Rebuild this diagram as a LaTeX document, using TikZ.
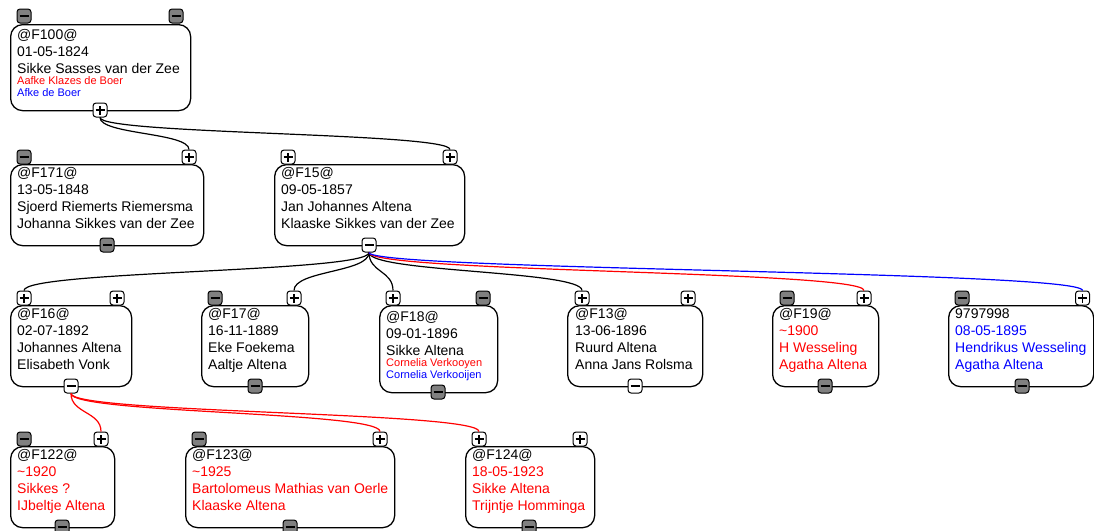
\documentclass[tikz,border=0pt]{standalone}
\usepackage{fontspec}
\setmainfont{Liberation Sans}
\definecolor{btngray}{RGB}{128,128,128}
\definecolor{nred}{RGB}{255,0,0}
\definecolor{nblue}{RGB}{0,0,255}
\newcommand\Lbig[2]{\leavevmode\fontsize{14}{17}\selectfont\textcolor{#1}{#2}\par}
\newcommand\Lsml[2]{\leavevmode\fontsize{11}{11.5}\selectfont\textcolor{#1}{#2}\par}
\tikzset{
  famb/.style={draw, line width=1.3pt, rounded corners=12pt, fill=white, anchor=north west, inner sep=0pt},
  txt/.style={anchor=base west, inner sep=0pt},
  btn/.style={draw, line width=1pt, rounded corners=3pt, minimum width=14pt, minimum height=14pt, inner sep=0pt},
  plusb/.style={btn, fill=white, path picture={
      \draw[line width=1.3pt] ([xshift=-4.5pt]path picture bounding box.center) -- ([xshift=4.5pt]path picture bounding box.center);
      \draw[line width=1.3pt] ([yshift=-4.5pt]path picture bounding box.center) -- ([yshift=4.5pt]path picture bounding box.center);}},
  minusb/.style={btn, fill=white, path picture={
      \draw[line width=1.3pt] ([xshift=-4.5pt]path picture bounding box.center) -- ([xshift=4.5pt]path picture bounding box.center);}},
  grayb/.style={btn, fill=btngray, path picture={
      \draw[line width=1.3pt] ([xshift=-4.5pt]path picture bounding box.center) -- ([xshift=4.5pt]path picture bounding box.center);}},
  conn/.style={line width=1.2pt, black},
  connr/.style={line width=1.2pt, nred},
  connb/.style={line width=1.2pt, nblue},
}
\begin{document}
\begin{tikzpicture}[x=1pt, y=-1pt]
\useasboundingbox (0,0) rectangle (1094,530);

% ---------------- level 1
\node[famb, minimum width=180pt, minimum height=86pt] (f100) at (10,24) {};
\node[txt] (f100t) at (17,39) {\parbox[t]{200pt}{\Lbig{black}{@F100@}\Lbig{black}{01-05-1824}\Lbig{black}{Sikke Sasses van der Zee}\Lsml{nred}{Aafke Klazes de Boer}\Lsml{nblue}{Afke de Boer}}};
\node[grayb] (f100l) at (24,16) {};
\node[grayb] (f100r) at (176,16) {};
\node[plusb] (f100b) at (100,110) {};

% ---------------- level 2
\node[famb, minimum width=193pt, minimum height=81pt] (f171) at (10,164) {};
\node[txt] (f171t) at (17,177) {\parbox[t]{200pt}{\Lbig{black}{@F171@}\Lbig{black}{13-05-1848}\Lbig{black}{Sjoerd Riemerts Riemersma}\Lbig{black}{Johanna Sikkes van der Zee}}};
\node[grayb] (f171l) at (24,157) {};
\node[plusb] (f171r) at (189,157) {};
\node[grayb] (f171b) at (107,245) {};

\node[famb, minimum width=190pt, minimum height=81pt] (f15) at (274,164) {};
\node[txt] (f15t) at (281,177) {\parbox[t]{200pt}{\Lbig{black}{@F15@}\Lbig{black}{09-05-1857}\Lbig{black}{Jan Johannes Altena}\Lbig{black}{Klaaske Sikkes van der Zee}}};
\node[plusb] (f15l) at (288,157) {};
\node[plusb] (f15r) at (450,157) {};
\node[minusb] (f15b) at (369,245) {};

% ---------------- level 3
\node[famb, minimum width=121pt, minimum height=81pt] (f16) at (10,305) {};
\node[txt] (f16t) at (17,318) {\parbox[t]{200pt}{\Lbig{black}{@F16@}\Lbig{black}{02-07-1892}\Lbig{black}{Johannes Altena}\Lbig{black}{Elisabeth Vonk}}};
\node[plusb] (f16l) at (24,298) {};
\node[plusb] (f16r) at (117,298) {};
\node[minusb] (f16b) at (71,386) {};

\node[famb, minimum width=107pt, minimum height=81pt] (f17) at (201,305) {};
\node[txt] (f17t) at (208,318) {\parbox[t]{200pt}{\Lbig{black}{@F17@}\Lbig{black}{16-11-1889}\Lbig{black}{Eke Foekema}\Lbig{black}{Aaltje Altena}}};
\node[grayb] (f17l) at (215,298) {};
\node[plusb] (f17r) at (294,298) {};
\node[grayb] (f17b) at (255,386) {};

\node[famb, minimum width=118pt, minimum height=87pt] (f18) at (379,305) {};
\node[txt] (f18t) at (386,321) {\parbox[t]{200pt}{\Lbig{black}{@F18@}\Lbig{black}{09-01-1896}\Lbig{black}{Sikke Altena}\Lsml{nred}{Cornelia Verkooyen}\Lsml{nblue}{Cornelia Verkooijen}}};
\node[plusb] (f18l) at (393,298) {};
\node[grayb] (f18r) at (483,298) {};
\node[grayb] (f18b) at (438,392) {};

\node[famb, minimum width=135pt, minimum height=81pt] (f13) at (567,305) {};
\node[txt] (f13t) at (575,318) {\parbox[t]{200pt}{\Lbig{black}{@F13@}\Lbig{black}{13-06-1896}\Lbig{black}{Ruurd Altena}\Lbig{black}{Anna Jans Rolsma}}};
\node[plusb] (f13l) at (582,298) {};
\node[plusb] (f13r) at (688,298) {};
\node[minusb] (f13b) at (635,386) {};

\node[famb, minimum width=106pt, minimum height=81pt] (f19) at (772,305) {};
\node[txt] (f19t) at (779,318) {\parbox[t]{200pt}{\Lbig{black}{@F19@}\Lbig{nred}{\textasciitilde1900}\Lbig{nred}{H Wesseling}\Lbig{nred}{Agatha Altena}}};
\node[grayb] (f19l) at (787,298) {};
\node[plusb] (f19r) at (864,298) {};
\node[grayb] (f19b) at (825,386) {};

\node[famb, minimum width=145pt, minimum height=81pt] (fx) at (948,305) {};
\node[txt] (fxt) at (955,318) {\parbox[t]{200pt}{\Lbig{black}{9797998}\Lbig{nblue}{08-05-1895}\Lbig{nblue}{Hendrikus Wesseling}\Lbig{nblue}{Agatha Altena}}};
\node[grayb] (fxl) at (962,298) {};
\node[plusb] (fxr) at (1082.5,298) {};
\node[grayb] (fxb) at (1022,386) {};

% ---------------- level 4
\node[famb, minimum width=104pt, minimum height=81pt] (f122) at (10,446) {};
\node[txt] (f122t) at (17,459) {\parbox[t]{200pt}{\Lbig{black}{@F122@}\Lbig{nred}{\textasciitilde1920}\Lbig{nred}{Sikkes ?}\Lbig{nred}{IJbeltje Altena}}};
\node[grayb] (f122l) at (24,439) {};
\node[plusb] (f122r) at (101,439) {};
\node[grayb] (f122b) at (62,527) {};

\node[famb, minimum width=209pt, minimum height=81pt] (f123) at (185,446) {};
\node[txt] (f123t) at (192,459) {\parbox[t]{250pt}{\Lbig{black}{@F123@}\Lbig{nred}{\textasciitilde1925}\Lbig{nred}{Bartolomeus Mathias van Oerle}\Lbig{nred}{Klaaske Altena}}};
\node[grayb] (f123l) at (199,439) {};
\node[plusb] (f123r) at (380,439) {};
\node[grayb] (f123b) at (290,527) {};

\node[famb, minimum width=129pt, minimum height=81pt] (f124) at (465,446) {};
\node[txt] (f124t) at (472,459) {\parbox[t]{200pt}{\Lbig{black}{@F124@}\Lbig{nred}{18-05-1923}\Lbig{nred}{Sikke Altena}\Lbig{nred}{Trijntje Homminga}}};
\node[plusb] (f124l) at (479,439) {};
\node[plusb] (f124r) at (580,439) {};
\node[grayb] (f124b) at (529,527) {};

% ---------------- connectors
\draw[conn] (f100b.south) .. controls +(0,17) and +(0,-17) .. (f171r.north);
\draw[conn] (f100b.south) .. controls +(0,17) and +(0,-17) .. (f15r.north);

\draw[conn] (f15b.south) .. controls +(0,20) and +(0,-20) .. (f16l.north);
\draw[conn] (f15b.south) .. controls +(0,20) and +(0,-20) .. (f17r.north);
\draw[conn] (f15b.south) .. controls +(0,20) and +(0,-20) .. (f18l.north);
\draw[conn] (f15b.south) .. controls +(0,20) and +(0,-20) .. (f13l.north);
\draw[connr] (f15b.south) .. controls +(0,20) and +(0,-20) .. (f19r.north);
\draw[connb] (f15b.south) .. controls +(0,18) and +(0,-20) .. (fxr.north);

\draw[connr] (f16b.south) .. controls +(0,20) and +(0,-20) .. (f122r.north);
\draw[connr] (f16b.south) .. controls +(0,20) and +(0,-20) .. (f123r.north);
\draw[connr] (f16b.south) .. controls +(0,20) and +(0,-20) .. (f124l.north);
\end{tikzpicture}
\end{document}
